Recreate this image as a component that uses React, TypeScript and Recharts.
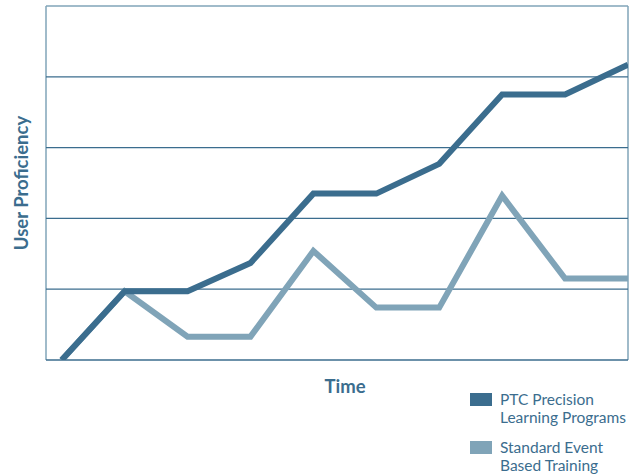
import React from "react";
import { LineChart, Line, XAxis, YAxis, ReferenceLine, Legend } from "recharts";

const timeSteps = [0, 1, 2, 3, 4, 5, 6, 7, 8, 9];
const ptcValues = [0, 0.97, 0.97, 1.37, 2.35, 2.35, 2.77, 3.75, 3.75, 4.17];
const standardValues = [0, 0.97, 0.33, 0.33, 1.54, 0.74, 0.74, 2.32, 1.15, 1.15];
const gridValues = [0, 1, 2, 3, 4];
const seriesNames = ["PTC Precision\nLearning Programs", "Standard Event\nBased Training"];

const DARK = "#3b6d8e";
const LIGHT = "#80a4b8";
const FONT = "Lato, 'Open Sans', sans-serif";

const data = timeSteps.map((t, i) => ({ t, ptc: ptcValues[i], std: standardValues[i] }));

const LegendContent = () => (
  <div style={{ fontFamily: FONT, color: DARK, fontSize: 15.5, lineHeight: "18px" }}>
    {[DARK, LIGHT].map((c, i) => (
      <div key={i} style={{ display: "flex", alignItems: "flex-start", marginBottom: i === 0 ? 12 : 0 }}>
        <div style={{ width: 22, height: 13, background: c, marginTop: 3, marginRight: 8 }} />
        <div style={{ whiteSpace: "pre" }}>{seriesNames[i]}</div>
      </div>
    ))}
  </div>
);

export default function App() {
  return (
    <div style={{ position: "absolute", left: 0, top: 0, width: 636, height: 474, background: "#fff" }}>
      <LineChart width={636} height={474} data={data} margin={{ top: 6, right: 8, left: 0, bottom: 84 }}>
        <XAxis
          dataKey="t"
          type="number"
          domain={[-0.25, 9]}
          allowDataOverflow
          tick={false}
          tickLine={false}
          axisLine={false}
          height={30}
          label={{
            content: (props: any) => {
              const vb = props.viewBox || {};
              return (
                <text x={345} y={(vb.y ?? 360) + 33} textAnchor="middle" fill={DARK} fontFamily={FONT} fontWeight={700} fontSize={18.5}>
                  Time
                </text>
              );
            },
          }}
        />
        <YAxis
          type="number"
          domain={[0, 5]}
          ticks={[0, 1, 2, 3, 4, 5]}
          allowDataOverflow
          tick={false}
          tickLine={false}
          axisLine={false}
          width={46}
          label={{
            content: (props: any) => {
              const vb = props.viewBox || {};
              const cx = 21;
              const cy = (vb.y ?? 6) + (vb.height ?? 354) / 2;
              return (
                <text x={cx} y={cy} transform={`rotate(-90, ${cx}, ${cy})`} textAnchor="middle" dominantBaseline="central" fill={DARK} fontFamily={FONT} fontWeight={700} fontSize={18.5}>
                  User Proficiency
                </text>
              );
            },
          }}
        />
        <ReferenceLine y={5} stroke={LIGHT} strokeWidth={1.5} />
        <ReferenceLine x={-0.25} stroke={LIGHT} strokeWidth={1.5} />
        <ReferenceLine x={9} stroke={LIGHT} strokeWidth={1.5} />
        {gridValues.map((v) => (
          <ReferenceLine key={v} y={v} stroke={DARK} strokeWidth={1.3} />
        ))}
        <Line type="linear" dataKey="std" stroke={LIGHT} strokeWidth={6} dot={false} activeDot={false} isAnimationActive={false} />
        <Line type="linear" dataKey="ptc" stroke={DARK} strokeWidth={6} dot={false} activeDot={false} isAnimationActive={false} />
        <Legend
          layout="vertical"
          align="center"
          verticalAlign="middle"
          content={() => <LegendContent />}
          wrapperStyle={{ position: "absolute", left: 470, top: 390, width: 170, height: 84 }}
        />
      </LineChart>
    </div>
  );
}
